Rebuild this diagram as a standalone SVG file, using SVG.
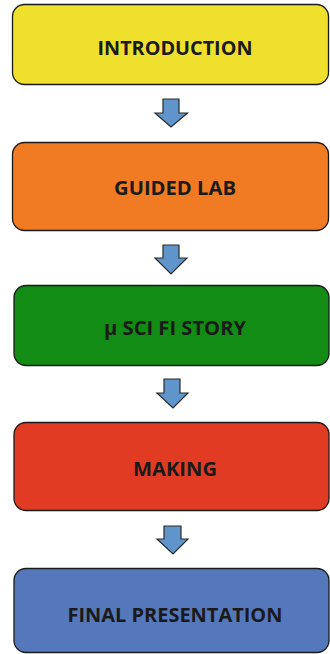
<svg xmlns="http://www.w3.org/2000/svg" width="330" height="654" viewBox="0 0 330 654">
  <style>
    .box { stroke: #1a1a1a; stroke-width: 1.3; }
    .label { font-family: "Open Sans", "Liberation Sans", sans-serif; font-weight: bold; font-size: 20px; fill: #1a1a1a; text-anchor: middle; }
    .arrow { fill: #5f95cb; stroke: #2a2a2a; stroke-width: 1.2; stroke-linejoin: miter; }
  </style>
  <rect width="330" height="654" fill="#ffffff"/>

  <g id="introduction">
    <rect class="box" x="12.5" y="4.5" width="316" height="80" rx="12" fill="#efe02e"/>
    <text class="label" x="175" y="55" textLength="155" lengthAdjust="spacingAndGlyphs">INTRODUCTION</text>
  </g>

  <g id="guided-lab">
    <rect class="box" x="12.5" y="142.5" width="316" height="88" rx="12" fill="#f07b23"/>
    <text class="label" x="175" y="195" textLength="122" lengthAdjust="spacingAndGlyphs">GUIDED LAB</text>
  </g>

  <g id="sci-fi-story">
    <rect class="box" x="14" y="285.5" width="315" height="80" rx="12" fill="#128c14"/>
    <text class="label" x="175" y="335" textLength="142" lengthAdjust="spacingAndGlyphs">μ SCI FI STORY</text>
  </g>

  <g id="making">
    <rect class="box" x="14" y="422.5" width="315" height="88" rx="12" fill="#e23b24"/>
    <text class="label" x="175" y="476" textLength="84" lengthAdjust="spacingAndGlyphs">MAKING</text>
  </g>

  <g id="final-presentation">
    <rect class="box" x="14" y="568.5" width="315" height="84" rx="12" fill="#5578bc"/>
    <text class="label" x="175" y="622" textLength="215" lengthAdjust="spacingAndGlyphs">FINAL PRESENTATION</text>
  </g>

  <g id="connectors">
    <polygon class="arrow" points="163,99 179,99 179,113 187.5,113 171,127 155,113 163,113"/>
    <polygon class="arrow" points="163,245 179,245 179,258 187,258 171,274 155,258 163,258"/>
    <polygon class="arrow" points="164,379 180,379 180,393 188,393 173,408 157,393 164,393"/>
    <polygon class="arrow" points="164,526 181,526 181,539 188,539 173,554 157,539 164,539"/>
  </g>
</svg>
